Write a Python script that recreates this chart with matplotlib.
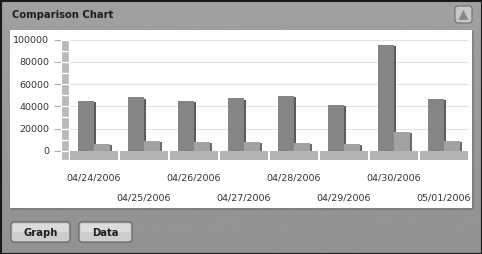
import matplotlib.pyplot as plt
import numpy as np
from matplotlib.patches import FancyBboxPatch, Rectangle, Polygon

# data
dates = ["04/24/2006", "04/25/2006", "04/26/2006", "04/27/2006",
         "04/28/2006", "04/29/2006", "04/30/2006", "05/01/2006"]
serie_a = [45000, 48100, 45000, 47300, 49300, 41400, 95500, 46800]
serie_b = [6300, 8500, 7800, 7800, 7200, 6000, 16800, 8500]
yticks = [0, 20000, 40000, 60000, 80000, 100000]

W, H = 482, 254
fig = plt.figure(figsize=(W / 100, H / 100), dpi=100)

# panel behind everything, pixel coords
bg = fig.add_axes([0, 0, 1, 1], zorder=0)
bg.set_xlim(0, W)
bg.set_ylim(H, 0)
bg.axis("off")
grad = np.linspace(0.63, 0.57, 100).reshape(-1, 1)
bg.imshow(grad, cmap="gray", vmin=0, vmax=1, extent=(0, W, H, 0), aspect="auto")
bg.add_patch(Rectangle((0.5, 0.5), W - 1, H - 1, fill=False, ec="#1a1a1a", lw=1.5))

# white plot area with soft shadow
bg.add_patch(Rectangle((11, 31), 463, 179, fc="#6a6a6a", ec="none", alpha=0.5))
bg.add_patch(Rectangle((10, 30), 462, 178, fc="white", ec="none"))

bg.text(12, 15, "Comparison Chart", fontsize=7.2, fontweight="bold",
        color="#1e1e1e", va="center", ha="left")

# collapse button top right
bg.add_patch(FancyBboxPatch((455, 6), 17, 17, boxstyle="round,pad=0,rounding_size=3",
                            fc="#c8c8c8", ec="#6e6e6e", lw=0.8))
bg.add_patch(Polygon([[458.5, 20], [468.5, 20], [463.5, 10]], fc="#8a8a8a", ec="none"))

# bottom buttons
for x0, w, lab in [(11, 59, "Graph"), (79, 53, "Data")]:
    bg.add_patch(FancyBboxPatch((x0, 222), w, 20, boxstyle="round,pad=0,rounding_size=3",
                                fc="#cdcdcd", ec="#5e5e5e", lw=0.8))
    bg.add_patch(Rectangle((x0 + 2, 223.5), w - 4, 8, fc="#dcdcdc", ec="none"))
    bg.text(x0 + w / 2, 232.5, lab, fontsize=7.2, fontweight="bold",
            color="#1e1e1e", ha="center", va="center")

# chart axes
L, R, T, B = 61, 470, 32, 160
ax = fig.add_axes([L / W, 1 - B / H, (R - L) / W, (B - T) / H], zorder=2)
ax.patch.set_alpha(0)
per_px = 100000 / 111
ax.set_ylim(-(B - 150.7) * per_px, 100000 + (39.7 - T) * per_px)
ax.set_xlim((L - 94) / 50, (R - 94) / 50)
for s in ax.spines.values():
    s.set_visible(False)

x = np.arange(len(dates))
ax.hlines(yticks[1:], -0.48, len(dates) - 0.52, color="#e2e2e2", lw=0.8, zorder=1)

# left wall
ylim = ax.get_ylim()
wall_bottoms = np.array([-8000] + list(range(0, 100000, 10000)))
wall_heights = np.diff(list(wall_bottoms) + [100000])
ax.bar(np.full(len(wall_bottoms), -0.58), wall_heights, bottom=wall_bottoms, width=0.16,
       color="#b9b9b9", edgecolor="white", linewidth=0.9, zorder=2)
ax.set_ylim(ylim)

# floor
ax.bar(x, -8000, width=0.96, color="#b4b4b4", zorder=2)

# bars with shadow strip
ax.bar(x - 0.14, np.array(serie_a) - 1200, width=0.34, color="#5c5c5c", zorder=3)
ax.bar(x - 0.17, serie_a, width=0.32, color="#858585", zorder=4)
ax.bar(x + 0.19, np.array(serie_b) - 800, width=0.32, color="#6a6a6a", zorder=5)
ax.bar(x + 0.16, serie_b, width=0.32, color="#a2a2a2", zorder=6)

ax.set_yticks(yticks, [str(v) for v in yticks])
ax.tick_params(axis="y", length=5, width=0.8, color="#b0b0b0", pad=3.5,
               labelsize=6.8, labelcolor="#333333")
ax.set_xticks(x, dates)
ax.tick_params(axis="x", length=0, labelsize=6.8, labelcolor="#333333")
for i, t in enumerate(ax.xaxis.get_major_ticks()):
    t.set_pad(10 if i % 2 == 0 else 23.8)

fig.savefig("out.png", dpi=100)
